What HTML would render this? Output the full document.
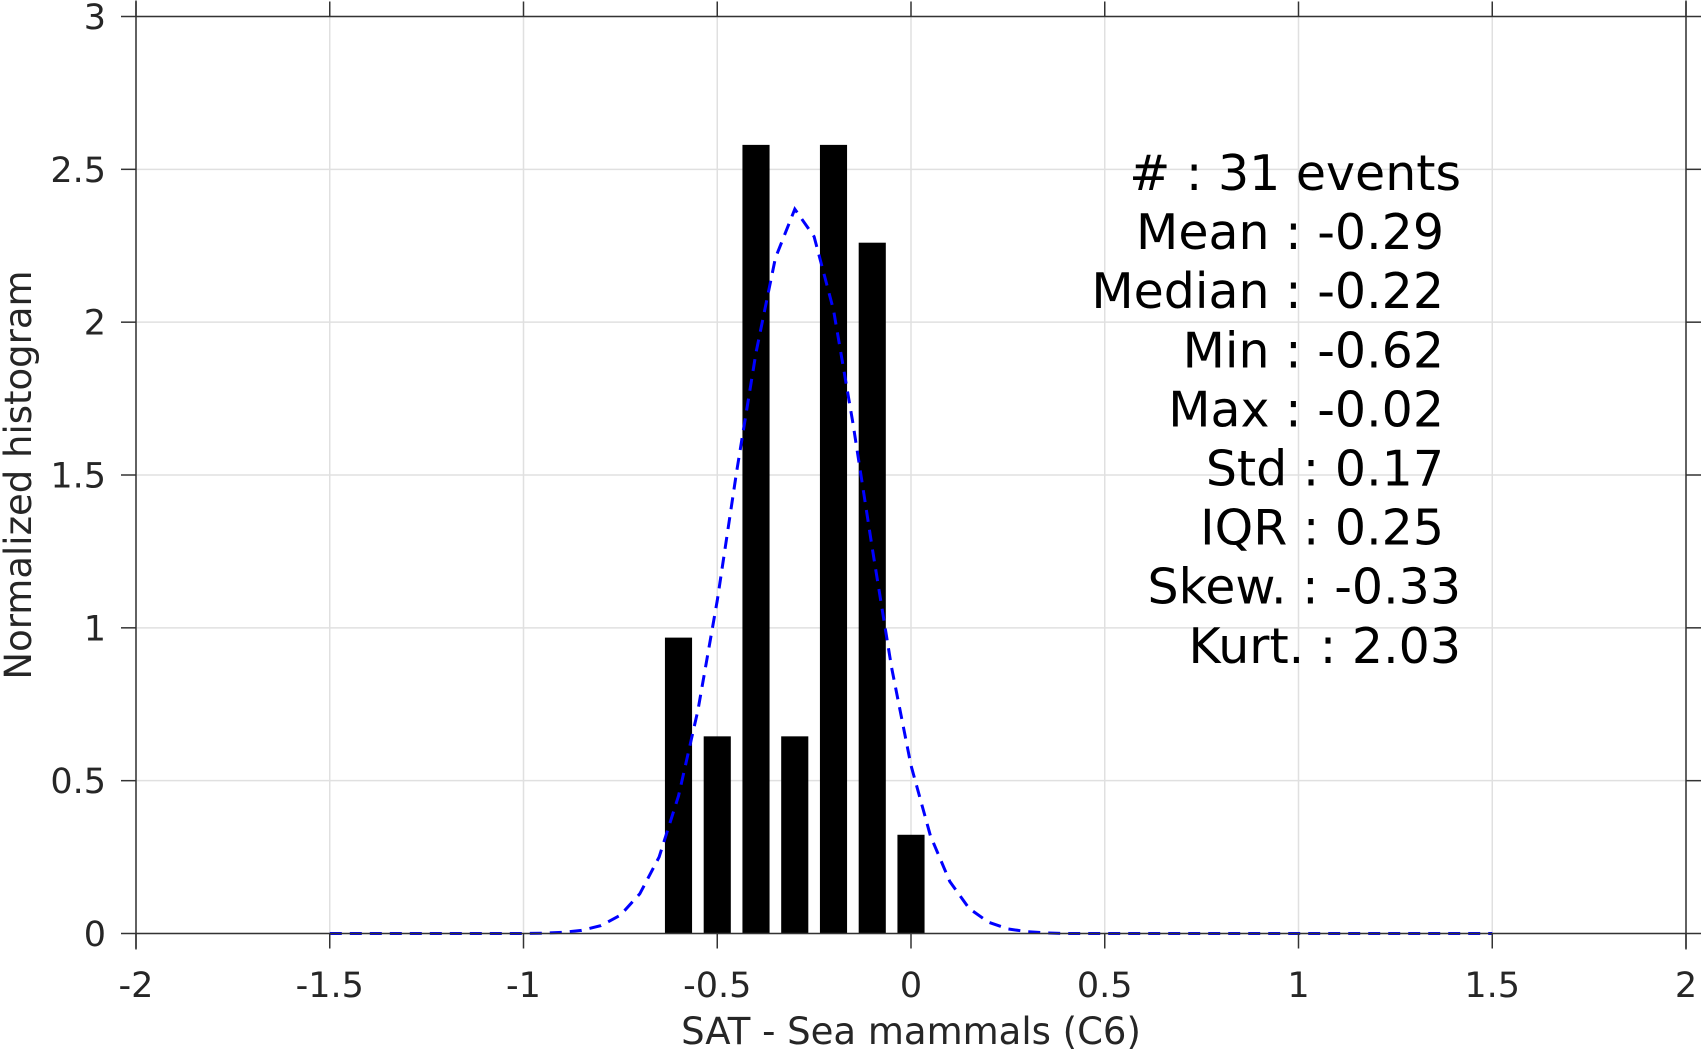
<!DOCTYPE html>
<html><head><meta charset="utf-8"><style>
html,body{margin:0;padding:0;background:#fff;}
svg{display:block;font-family:"DejaVu Sans","Liberation Sans",sans-serif;}
</style></head><body>
<svg id="chart" width="1703" height="1053" viewBox="0 0 1703 1053" xmlns="http://www.w3.org/2000/svg">
<rect width="1703" height="1053" fill="#fff"/>
<g id="grid"></g>
<g id="bars"></g>
<g id="curve"></g>
<g id="axes"></g>
<g id="stats"></g>
<text x="911" y="1044" font-size="37" fill="#262626" text-anchor="middle">SAT - Sea mammals (C6)</text>
<text transform="translate(31,475) rotate(-90)" font-size="37" fill="#262626" text-anchor="middle">Normalized histogram</text>
</svg>
<script>
const binCenters=[-0.6,-0.5,-0.4,-0.3,-0.2,-0.1,0.0];
const binValues=[0.968,0.645,2.58,0.645,2.58,2.26,0.323];
const curveX=[-1.5,-1.45,-1.4,-1.35,-1.3,-1.25,-1.2,-1.15,-1.1,-1.05,-1.0,-0.95,-0.9,-0.85,-0.8,-0.75,-0.7,-0.65,-0.6,-0.55,-0.5,-0.45,-0.4,-0.35,-0.3,-0.25,-0.2,-0.15,-0.1,-0.05,0.0,0.05,0.1,0.15,0.2,0.25,0.3,0.35,0.4,0.45,0.5,0.55,0.6,0.65,0.7,0.75,0.8,0.85,0.9,0.95,1.0,1.05,1.1,1.15,1.2,1.25,1.3,1.35,1.4,1.45,1.5];
const curveY=[0,0,0,0,0,0,0,0,0,0,0,0.001,0.004,0.010,0.026,0.060,0.13,0.25,0.45,0.73,1.09,1.51,1.90,2.21,2.37,2.28,2.04,1.67,1.26,0.87,0.55,0.32,0.17,0.082,0.037,0.015,0.006,0.002,0,0,0,0,0,0,0,0,0,0,0,0,0,0,0,0,0,0,0,0,0,0,0];
const xTicks=[-2,-1.5,-1,-0.5,0,0.5,1,1.5,2];
const xTickLabels=["-2","-1.5","-1","-0.5","0","0.5","1","1.5","2"];
const yTicks=[0,0.5,1,1.5,2,2.5,3];
const yTickLabels=["0","0.5","1","1.5","2","2.5","3"];
const statLines=["#  : 31 events","Mean : -0.29","Median : -0.22","Min : -0.62","Max : -0.02","Std : 0.17","IQR : 0.25","Skew. : -0.33","Kurt. : 2.03"];

const NS="http://www.w3.org/2000/svg";
const L=136,R=1686,T=16.5,B=933.5;
const sx=v=>L+(v+2)/4*(R-L);
const sy=v=>B-v/3*(B-T);
function mk(tag,attrs,parent){const e=document.createElementNS(NS,tag);for(const k in attrs)e.setAttribute(k,attrs[k]);parent.appendChild(e);return e;}
const grid=document.getElementById('grid'),bars=document.getElementById('bars'),curve=document.getElementById('curve'),axes=document.getElementById('axes'),stats=document.getElementById('stats');
xTicks.forEach((v,i)=>{
  const g=mk('line',{x1:sx(v),x2:sx(v),y1:T,y2:B,stroke:'#e0e0e0','stroke-width':1.5},grid);
  
  
  const t1=mk('line',{x1:sx(v),x2:sx(v),y1:B,y2:B+15,stroke:'#333','stroke-width':1.5},axes);
  
  
  const t2=mk('line',{x1:sx(v),x2:sx(v),y1:T,y2:T-15,stroke:'#333','stroke-width':1.5},axes);
  
  
  const lb=mk('text',{x:sx(v),y:997,'font-size':35,fill:'#262626','text-anchor':'middle'},axes);
  lb.textContent=xTickLabels[i];
  
  
});
yTicks.forEach((v,i)=>{
  const g=mk('line',{x1:L,x2:R,y1:sy(v),y2:sy(v),stroke:'#e0e0e0','stroke-width':1.5},grid);
  
  
  const t1=mk('line',{x1:L-15,x2:L,y1:sy(v),y2:sy(v),stroke:'#333','stroke-width':1.5},axes);
  
  
  const t2=mk('line',{x1:R,x2:R+15,y1:sy(v),y2:sy(v),stroke:'#333','stroke-width':1.5},axes);
  
  
  const lb=mk('text',{x:106,y:sy(v)+12.5,'font-size':35,fill:'#262626','text-anchor':'end'},axes);
  lb.textContent=yTickLabels[i];
  
  
});
const bw=0.07;
binCenters.forEach((c,i)=>{
  const r=mk('rect',{x:sx(c-bw/2),y:sy(binValues[i]),width:sx(c+bw/2)-sx(c-bw/2),height:B-sy(binValues[i]),fill:'#000'},bars);
  
  
});
const pts=curveX.map((x,i)=>sx(x).toFixed(1)+','+sy(curveY[i]).toFixed(1)).join(' ');
const pl=mk('polyline',{points:pts,fill:'none',stroke:'#0000ff','stroke-width':3,'stroke-dasharray':'12,8'},curve);


// box
[[L,T,R,T],[L,B,R,B],[L,T-16,L,B+16],[R,T-16,R,B+16]].forEach(a=>{
  const l=mk('line',{x1:a[0],y1:a[1],x2:a[2],y2:a[3],stroke:'#333','stroke-width':1.5},axes);
  
  
});
const ends=[1461,1444,1444,1444,1444,1444,1444,1461,1461];
statLines.forEach((s,i)=>{
  const t=mk('text',{x:ends[i],y:190+i*59.1,'font-size':49,fill:'#000','text-anchor':'end','xml:space':'preserve'},stats);
  t.textContent=s;
  
  
});
</script>
</body></html>
